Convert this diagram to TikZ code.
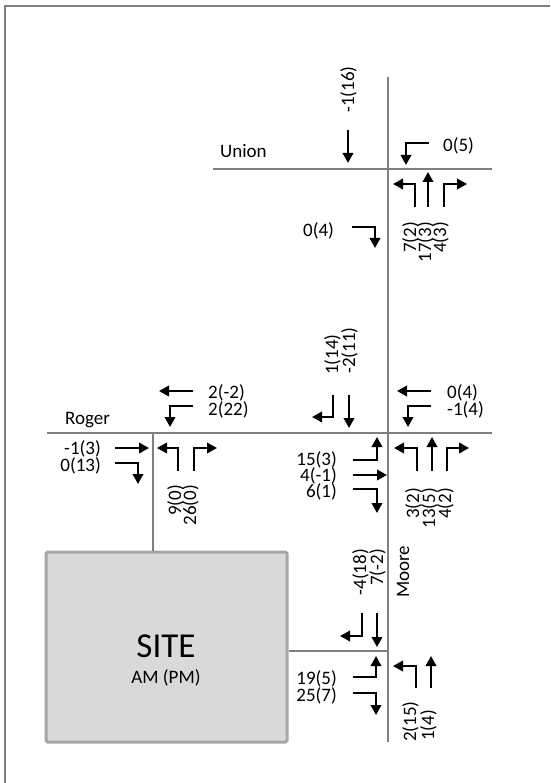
\documentclass[tikz,border=0pt]{standalone}
\usepackage{fontspec}
\setmainfont{Carlito}
\usetikzlibrary{arrows.meta}
\definecolor{roadgray}{RGB}{128,128,128}
\definecolor{framegray}{RGB}{127,127,127}
\definecolor{siteedge}{RGB}{166,166,166}
\definecolor{sitefill}{RGB}{217,217,217}
\begin{document}
\begin{tikzpicture}[x=1pt,y=-1pt,
  road/.style={draw=roadgray,line width=2.2pt},
  mv/.style={draw=black,line width=2pt,-{Triangle[length=10pt,width=10.5pt]}},
  vol/.style={font=\fontsize{19}{17}\selectfont,inner sep=0pt,text=black},
  rvol/.style={vol,rotate=90},
  sitebox/.style={draw=siteedge,fill=sitefill,line width=3pt,rounded corners=1.5pt,minimum width=241pt,minimum height=190pt,inner sep=0pt}
]
\useasboundingbox (0,0) rectangle (550,783);
% frame
\draw[framegray,line width=2pt] (5,783) -- (5,6) -- (550,6);

% road coordinates
\coordinate (uw) at (213,169);
\coordinate (ue) at (492,169);
\coordinate (mn) at (388,77);
\coordinate (ms) at (388,742);
\coordinate (rw) at (47,433);
\coordinate (re) at (492,433);
\coordinate (rsite) at (153,433);
\coordinate (msite) at (388,651);

% site
\node[sitebox] (site) at (166.5,647) {};
\draw[road] (rsite) -- (rsite |- site.north);
\draw[road] (site.east |- msite) -- (msite);

% roads
\draw[road] (uw) -- (ue);
\draw[road] (rw) -- (re);
\draw[road] (mn) -- (ms);

\node[font=\fontsize{35}{40}\selectfont,inner sep=0pt] (sitelbl) at (166,646.5) {SITE};
\node[vol,anchor=base] (sitesub) at (166,683) {AM (PM)};

% road names
\node[vol,anchor=base west] (union) at (220,158) {Union};
\node[vol,anchor=base west] (roger) at (65,424) {Roger};
\node[rvol,anchor=base west] (moore) at (409,598) {Moore};

% ---------- Union / Moore ----------
\node[rvol,anchor=base west] (u1) at (354,113) {-1(16)};
\draw[mv] (348,130) -- (348,163);
\node[vol,anchor=base west] (u2) at (443,152) {0(5)};
\draw[mv] (429,143) -- (406,143) -- (406,165);
\draw[mv] (415,207) -- (415,184) -- (393,184);
\draw[mv] (428,207) -- (428,172);
\draw[mv] (444,207) -- (444,184) -- (467,184);
\node[rvol,anchor=base east] (u3) at (416,222) {7(2)};
\node[rvol,anchor=base east] (u4) at (431,222) {17(3)};
\node[rvol,anchor=base east] (u5) at (446,222) {4(3)};
\node[vol,anchor=base west] (u6) at (303,237) {0(4)};
\draw[mv] (352,227) -- (375,227) -- (375,248);

% ---------- Roger / site access ----------
\node[vol,anchor=base west] (r1) at (208,398) {2(-2)};
\node[vol,anchor=base west] (r2) at (208,415) {2(22)};
\draw[mv] (193,391) -- (159,391);
\draw[mv] (193,406) -- (170,406) -- (170,427);
\node[vol,anchor=base east] (r3) at (101,454) {-1(3)};
\node[vol,anchor=base east] (r4) at (101,471) {0(13)};
\draw[mv] (115,448) -- (149,448);
\draw[mv] (115,463) -- (138,463) -- (138,484);
\draw[mv] (178,471) -- (178,448) -- (157,448);
\draw[mv] (194,471) -- (194,448) -- (217,448);
\node[rvol,anchor=base east] (r5) at (181,485) {9(0)};
\node[rvol,anchor=base east] (r6) at (196,485) {26(0)};

% ---------- Roger / Moore ----------
\node[rvol,anchor=base west] (m1) at (338,375) {1(14)};
\node[rvol,anchor=base west] (m2) at (355,374) {-2(11)};
\draw[mv] (333,395) -- (333,417) -- (312,417);
\draw[mv] (349,395) -- (349,428);
\node[vol,anchor=base west] (m3) at (447,398) {0(4)};
\node[vol,anchor=base west] (m4) at (447,415) {-1(4)};
\draw[mv] (431,391) -- (397,391);
\draw[mv] (431,406) -- (408,406) -- (408,427);
\draw[mv] (417,471) -- (417,448) -- (394,448);
\draw[mv] (432,471) -- (432,437);
\draw[mv] (447,471) -- (447,448) -- (469,448);
\node[rvol,anchor=base east] (m5) at (419,488) {3(2)};
\node[rvol,anchor=base east] (m6) at (435,488) {13(5)};
\node[rvol,anchor=base east] (m7) at (451,488) {4(2)};
\node[vol,anchor=base east] (m8) at (337,465) {15(3)};
\node[vol,anchor=base east] (m9) at (337,481) {4(-1)};
\node[vol,anchor=base east] (m10) at (337,497) {6(1)};
\draw[mv] (353,460) -- (377,460) -- (377,437);
\draw[mv] (353,475) -- (387,475);
\draw[mv] (353,489) -- (377,489) -- (377,513);

% ---------- Moore / site driveway ----------
\node[rvol,anchor=base east] (s1) at (366,549) {-4(18)};
\node[rvol,anchor=base east] (s2) at (383,549) {7(-2)};
\draw[mv] (362,613) -- (362,636) -- (340,636);
\draw[mv] (377,613) -- (377,647);
\node[vol,anchor=base east] (s3) at (337,684) {19(5)};
\node[vol,anchor=base east] (s4) at (337,701) {25(7)};
\draw[mv] (353,677) -- (376,677) -- (376,656);
\draw[mv] (353,693) -- (376,693) -- (376,715);
\draw[mv] (416,688) -- (416,666) -- (393,666);
\draw[mv] (431,688) -- (431,656);
\node[rvol,anchor=base west] (s5) at (416,742) {2(15)};
\node[rvol,anchor=base west] (s6) at (434,741) {1(4)};
\end{tikzpicture}
\end{document}
